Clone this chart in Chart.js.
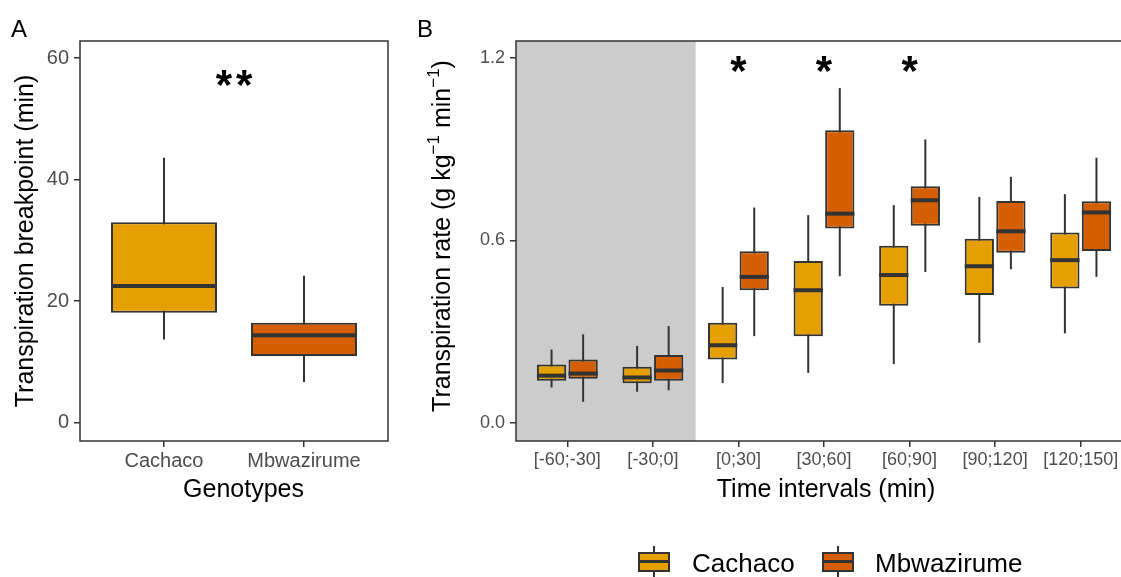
<!DOCTYPE html>
<html>
<head>
<meta charset="utf-8">
<script src="https://cdn.jsdelivr.net/npm/chart.js@4/dist/chart.umd.min.js"></script>
<style>
  html, body { margin:0; padding:0; background:#fff; }
  body { width:1121px; height:577px; overflow:hidden; position:relative; font-family:"Liberation Sans", Arial, sans-serif; }
  #ca { position:absolute; left:0; top:0; }
  #cb { position:absolute; left:400px; top:0; }
  .key { position:absolute; width:32px; height:31px; }
  .key .wh { position:absolute; left:15px; top:0; width:2px; height:31px; background:#333; }
  .key .bx { position:absolute; left:0; top:5.5px; width:32px; height:20px; box-sizing:border-box; border:2px solid #333; }
  .key .md { position:absolute; left:0; top:14px; width:32px; height:3px; background:#333; }
  .ltxt { position:absolute; font-size:26px; line-height:30px; color:#000; white-space:nowrap; }
</style>
</head>
<body>
<canvas id="ca" width="400" height="577"></canvas>
<canvas id="cb" width="760" height="577"></canvas>

<div class="key" style="left:637.5px;top:546px"><div class="wh"></div><div class="bx" style="background:#E69F00"></div><div class="md"></div></div>
<div class="ltxt" style="left:692px;top:547.7px">Cachaco</div>
<div class="key" style="left:821.7px;top:546px"><div class="wh"></div><div class="bx" style="background:#D55E00"></div><div class="md"></div></div>
<div class="ltxt" style="left:875px;top:547.7px">Mbwazirume</div>

<script>
// ---------- Panel A data ----------
const genotypes = ['Cachaco', 'Mbwazirume'];
const bpMin = [13.7, 6.7];
const bpQ1  = [18.1, 11.0];
const bpMed = [22.5, 14.4];
const bpQ3  = [33.0, 16.45];
const bpMax = [43.6, 24.2];
const bpSigLabel = '**';
const bpSigY = 56.7;
const yTicksA = [0, 20, 40, 60];

// ---------- Panel B data ----------
const intervals = ['[-60;-30]', '[-30;0]', '[0;30]', '[30;60]', '[60;90]', '[90;120]', '[120;150]'];
const cachMin = [0.116, 0.102, 0.131, 0.164, 0.193, 0.263, 0.294];
const cachQ1  = [0.138, 0.130, 0.208, 0.285, 0.385, 0.420, 0.442];
const cachMed = [0.155, 0.149, 0.255, 0.436, 0.486, 0.515, 0.535];
const cachQ3  = [0.192, 0.184, 0.329, 0.532, 0.582, 0.605, 0.626];
const cachMax = [0.241, 0.253, 0.447, 0.683, 0.716, 0.743, 0.752];
const mbwMin  = [0.069, 0.107, 0.285, 0.482, 0.496, 0.505, 0.480];
const mbwQ1   = [0.145, 0.138, 0.436, 0.639, 0.648, 0.559, 0.565];
const mbwMed  = [0.162, 0.172, 0.480, 0.688, 0.732, 0.630, 0.692];
const mbwQ3   = [0.208, 0.223, 0.564, 0.962, 0.778, 0.730, 0.729];
const mbwMax  = [0.291, 0.318, 0.708, 1.101, 0.932, 0.809, 0.872];
const sigB    = ['', '', '*', '*', '*', '', ''];
const sigBY   = 1.18;
const shadeUntil = 2.5;   // pre-treatment intervals shaded
const yTicksB = [0, 0.6, 1.2];

const COL_CACH = '#E69F00';
const COL_MBW  = '#D55E00';
const LINE = '#333333';
const FONT = '"Liberation Sans", Arial, sans-serif';

function fixedTicks(values) {
  return s => { s.ticks = values.map(v => ({ value: v })); };
}

function drawRich(ctx, parts, cx, cy, rotate) {
  ctx.save();
  let total = 0;
  parts.forEach(p => { ctx.font = p.size + 'px ' + FONT; p.w = ctx.measureText(p.t).width; total += p.w; });
  ctx.translate(cx, cy);
  if (rotate) ctx.rotate(-Math.PI / 2);
  ctx.textAlign = 'left';
  ctx.textBaseline = 'alphabetic';
  ctx.fillStyle = '#000';
  let x = -total / 2;
  parts.forEach(p => { ctx.font = p.size + 'px ' + FONT; ctx.fillText(p.t, x, p.dy || 0); x += p.w; });
  ctx.restore();
}

// significance marks: each asterisk drawn separately with a small gap, centred on (px, py)
function drawStar(ctx, txt, px, py, size) {
  ctx.save();
  ctx.font = 'bold ' + size + 'px ' + FONT;
  ctx.fillStyle = '#000';
  ctx.textAlign = 'center';
  ctx.textBaseline = 'alphabetic';
  const m = ctx.measureText('*');
  const base = py + (m.actualBoundingBoxAscent - m.actualBoundingBoxDescent) / 2;
  const step = m.width + 4;
  const n = txt.length;
  for (let i = 0; i < n; i++) {
    ctx.fillText(txt[i], px + (i - (n - 1) / 2) * step, base);
  }
  ctx.restore();
}

function boxPlugin(cfg) {
  return {
    id: 'boxplotExtras',
    beforeDatasetsDraw(chart) {
      const { ctx, chartArea: ca, scales: { x, y } } = chart;
      ctx.save();
      if (cfg.shade != null) {
        const xr = x.getPixelForValue(cfg.shade);
        ctx.fillStyle = '#CCCCCC';
        ctx.fillRect(ca.left, ca.top, xr - ca.left, ca.bottom - ca.top);
      }
      ctx.strokeStyle = LINE;
      ctx.lineWidth = 2;
      cfg.stats.forEach((s, di) => {
        chart.getDatasetMeta(di).data.forEach((el, j) => {
          ctx.beginPath();
          ctx.moveTo(el.x, y.getPixelForValue(s.max[j]));
          ctx.lineTo(el.x, y.getPixelForValue(s.min[j]));
          ctx.stroke();
        });
      });
      ctx.restore();
    },
    afterDatasetsDraw(chart) {
      const { ctx, scales: { x, y } } = chart;
      ctx.save();
      ctx.strokeStyle = LINE;
      ctx.lineWidth = 4;
      cfg.stats.forEach((s, di) => {
        chart.getDatasetMeta(di).data.forEach((el, j) => {
          const py = y.getPixelForValue(s.med[j]);
          ctx.beginPath();
          ctx.moveTo(el.x - el.width / 2, py);
          ctx.lineTo(el.x + el.width / 2, py);
          ctx.stroke();
        });
      });
      ctx.restore();
      cfg.sig.forEach(sg => drawStar(ctx, sg.t, x.getPixelForValue(sg.x), y.getPixelForValue(sg.y), 42));
    },
    afterDraw(chart) {
      const { ctx, chartArea: ca } = chart;
      ctx.save();
      ctx.strokeStyle = LINE;
      ctx.lineWidth = 1.5;
      ctx.strokeRect(ca.left, ca.top, ca.right - ca.left, ca.bottom - ca.top);
      ctx.restore();
      ctx.save();
      ctx.font = '24px ' + FONT;
      ctx.fillStyle = '#000';
      ctx.textBaseline = 'alphabetic';
      ctx.fillText(cfg.letter, cfg.letterX, 37);
      ctx.restore();
      drawRich(ctx, cfg.yTitle, cfg.yTitleX, cfg.yTitleY, true);
      drawRich(ctx, cfg.xTitle, cfg.xTitleX, 497, false);
    }
  };
}

function axisOpts(extra) {
  return Object.assign({
    type: 'linear',
    offset: false,
    grid: { display: true, drawOnChartArea: false, drawTicks: true, tickLength: 6, color: LINE, lineWidth: 1.5, offset: false },
    border: { display: false }
  }, extra);
}

// ---------- Chart A ----------
new Chart(document.getElementById('ca'), {
  type: 'bar',
  data: {
    datasets: [{
      data: genotypes.map((g, i) => ({ x: i + 1, y: [bpQ1[i], bpQ3[i]] })),
      backgroundColor: [COL_CACH, COL_MBW],
      borderColor: LINE,
      borderWidth: 2,
      borderSkipped: false,
      categoryPercentage: 0.757,
      barPercentage: 1
    }]
  },
  options: {
    responsive: false,
    animation: false,
    events: [],
    layout: { padding: { left: 0, top: 41, right: 12, bottom: 0 } },
    plugins: { legend: { display: false }, tooltip: { enabled: false } },
    scales: {
      x: axisOpts({
        min: 0.4, max: 2.6,
        afterBuildTicks: fixedTicks(genotypes.map((g, i) => i + 1)),
        afterFit: s => { s.height = 136; },
        ticks: { stepSize: 1, autoSkip: false, maxRotation: 0, padding: 2, color: '#4D4D4D',
                 font: { family: FONT, size: 20 }, callback: v => genotypes[Math.round(v) - 1] || '' }
      }),
      y: axisOpts({
        min: -3.0, max: 62.8,
        afterBuildTicks: fixedTicks(yTicksA),
        afterFit: s => { s.width = 80; },
        ticks: { stepSize: 20, padding: 5, color: '#4D4D4D', font: { family: FONT, size: 20 },
                 callback: v => String(Math.round(v)) }
      })
    }
  },
  plugins: [boxPlugin({
    stats: [{ min: bpMin, med: bpMed, max: bpMax }],
    sig: [{ t: bpSigLabel, x: 1.5, y: bpSigY }],
    shade: null,
    letter: 'A', letterX: 11,
    yTitle: [{ t: 'Transpiration breakpoint (min)', size: 25 }],
    yTitleX: 33, yTitleY: 241,
    xTitle: [{ t: 'Genotypes', size: 25 }],
    xTitleX: 243.5
  })]
});

// ---------- Chart B ----------
new Chart(document.getElementById('cb'), {
  type: 'bar',
  data: {
    datasets: [
      {
        label: 'Cachaco',
        data: intervals.map((g, i) => ({ x: i + 1, y: [cachQ1[i], cachQ3[i]] })),
        backgroundColor: COL_CACH, borderColor: LINE, borderWidth: 2, borderSkipped: false,
        categoryPercentage: 0.738, barPercentage: 0.927
      },
      {
        label: 'Mbwazirume',
        data: intervals.map((g, i) => ({ x: i + 1, y: [mbwQ1[i], mbwQ3[i]] })),
        backgroundColor: COL_MBW, borderColor: LINE, borderWidth: 2, borderSkipped: false,
        categoryPercentage: 0.738, barPercentage: 0.927
      }
    ]
  },
  options: {
    responsive: false,
    animation: false,
    events: [],
    layout: { padding: { left: 0, top: 41, right: 28, bottom: 0 } },
    plugins: { legend: { display: false }, tooltip: { enabled: false } },
    scales: {
      x: axisOpts({
        min: 0.4, max: 7.6,
        afterBuildTicks: fixedTicks(intervals.map((g, i) => i + 1)),
        afterFit: s => { s.height = 136; },
        ticks: { stepSize: 1, autoSkip: false, maxRotation: 0, padding: 2, color: '#4D4D4D',
                 font: { family: FONT, size: 18 }, callback: v => intervals[Math.round(v) - 1] || '' }
      }),
      y: axisOpts({
        min: -0.06, max: 1.256,
        afterBuildTicks: fixedTicks(yTicksB),
        afterFit: s => { s.width = 116; },
        ticks: { stepSize: 0.6, padding: 5, color: '#4D4D4D', font: { family: FONT, size: 18 },
                 callback: v => Number(v).toFixed(1) }
      })
    }
  },
  plugins: [boxPlugin({
    stats: [
      { min: cachMin, med: cachMed, max: cachMax },
      { min: mbwMin, med: mbwMed, max: mbwMax }
    ],
    sig: sigB.map((t, i) => ({ t, x: i + 1, y: sigBY })).filter(s => s.t),
    shade: shadeUntil,
    letter: 'B', letterX: 17,
    yTitle: [
      { t: 'Transpiration rate (g kg', size: 25 },
      { t: '\u22121', size: 17, dy: -11 },
      { t: ' min', size: 25 },
      { t: '\u22121', size: 17, dy: -11 },
      { t: ')', size: 25 }
    ],
    yTitleX: 50, yTitleY: 236,
    xTitle: [{ t: 'Time intervals (min)', size: 25 }],
    xTitleX: 426
  })]
});
</script>
</body>
</html>
